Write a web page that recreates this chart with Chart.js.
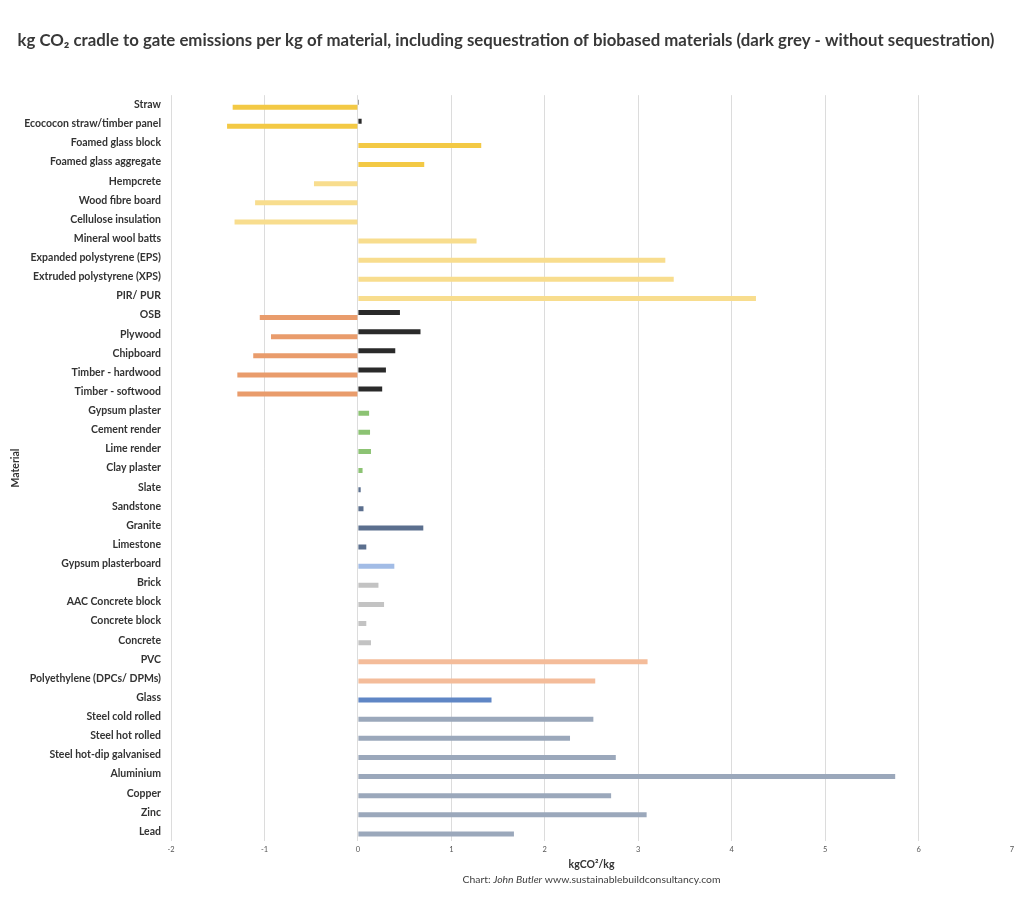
<!DOCTYPE html>
<html>
<head>
<meta charset="utf-8">
<title>kg CO2 cradle to gate emissions per kg of material</title>
<script src="https://cdn.jsdelivr.net/npm/chart.js@4.4.1/dist/chart.umd.min.js"></script>
<style>
    html, body { margin: 0; padding: 0; background: #ffffff; }
    #wrap { position: relative; width: 1024px; height: 913px; }
</style>
</head>
<body>
<div id="wrap"><canvas id="co2-chart"></canvas></div>
<script>
// Materials, top to bottom
const materials = [
    'Straw', 'Ecococon straw/timber panel', 'Foamed glass block', 'Foamed glass aggregate',
    'Hempcrete', 'Wood fibre board', 'Cellulose insulation', 'Mineral wool batts',
    'Expanded polystyrene (EPS)', 'Extruded polystyrene (XPS)', 'PIR/ PUR',
    'OSB', 'Plywood', 'Chipboard', 'Timber - hardwood', 'Timber - softwood',
    'Gypsum plaster', 'Cement render', 'Lime render', 'Clay plaster',
    'Slate', 'Sandstone', 'Granite', 'Limestone', 'Gypsum plasterboard',
    'Brick', 'AAC Concrete block', 'Concrete block', 'Concrete',
    'PVC', 'Polyethylene (DPCs/ DPMs)', 'Glass',
    'Steel cold rolled', 'Steel hot rolled', 'Steel hot-dip galvanised',
    'Aluminium', 'Copper', 'Zinc', 'Lead'
];

// kgCO2/kg including sequestration of biobased materials
const withSequestration = [
    -1.34, -1.40, 1.32, 0.71,
    -0.47, -1.10, -1.32, 1.27,
    3.29, 3.38, 4.26,
    -1.05, -0.93, -1.12, -1.29, -1.29,
    0.12, 0.13, 0.14, 0.05,
    0.03, 0.06, 0.70, 0.09, 0.39,
    0.22, 0.28, 0.09, 0.14,
    3.10, 2.54, 1.43,
    2.52, 2.27, 2.76,
    5.75, 2.71, 3.09, 1.67
];

// kgCO2/kg without sequestration (dark grey), only for biobased materials
const withoutSequestration = [
    0.01, 0.04, null, null,
    null, null, null, null,
    null, null, null,
    0.45, 0.67, 0.40, 0.30, 0.26,
    null, null, null, null,
    null, null, null, null, null,
    null, null, null, null,
    null, null, null,
    null, null, null,
    null, null, null, null
];

// x axis range
const xMin = -2;
const xMax = 7;

// Material group of each row (used for colouring)
const materialGroups = [
    'gold', 'gold', 'gold', 'gold',
    'yellow', 'yellow', 'yellow', 'yellow',
    'yellow', 'yellow', 'yellow',
    'timber', 'timber', 'timber', 'timber', 'timber',
    'plaster', 'plaster', 'plaster', 'plaster',
    'stone', 'stone', 'stone', 'stone', 'board',
    'masonry', 'masonry', 'masonry', 'masonry',
    'plastic', 'plastic', 'glass',
    'metal', 'metal', 'metal',
    'metal', 'metal', 'metal', 'metal'
];

const groupColors = {
    gold: '#f3c945',
    yellow: '#f8dd8e',
    timber: '#e99c6c',
    plaster: '#8cc373',
    stone: '#5b6f8e',
    board: '#a2bce6',
    masonry: '#c3c3c3',
    plastic: '#f4bc9a',
    glass: '#5f86c5',
    metal: '#9ba8bb'
};

const labelFont = 'Lato, "Open Sans", "DejaVu Sans", sans-serif';

// Footer credit below the axis title
const textPlugin = {
    id: 'chartTexts',
    afterDraw(chart) {
        const ctx = chart.ctx;
        const cx = (chart.chartArea.left + chart.chartArea.right) / 2;
        ctx.save();
        ctx.textBaseline = 'middle';
        ctx.fillStyle = '#404040';

        // "Chart: John Butler www.sustainablebuildconsultancy.com"
        const parts = [
            { text: 'Chart: ', font: '10.4px ' + labelFont },
            { text: 'John Butler', font: 'italic 10.4px ' + labelFont },
            { text: ' www.sustainablebuildconsultancy.com', font: '10.4px ' + labelFont }
        ];
        let total = 0;
        parts.forEach(p => { ctx.font = p.font; p.w = ctx.measureText(p.text).width; total += p.w; });
        let x = cx - total / 2;
        ctx.textAlign = 'left';
        parts.forEach(p => { ctx.font = p.font; ctx.fillText(p.text, x, 880); x += p.w; });
        ctx.restore();
    }
};

const ctx = document.getElementById('co2-chart').getContext('2d');
new Chart(ctx, {
    type: 'bar',
    data: {
        labels: materials,
        datasets: [
            {
                label: 'Without sequestration',
                data: withoutSequestration,
                backgroundColor: '#2a2a2a',
                categoryPercentage: 0.52,
                barPercentage: 1.0
            },
            {
                label: 'Including sequestration',
                data: withSequestration,
                backgroundColor: materialGroups.map(g => groupColors[g]),
                categoryPercentage: 0.52,
                barPercentage: 1.0
            }
        ]
    },
    options: {
        indexAxis: 'y',
        responsive: true,
        maintainAspectRatio: false,
        animation: false,
        layout: { padding: { left: 0, right: 12, top: 0, bottom: 0 } },
        plugins: {
            legend: { display: false },
            tooltip: { enabled: false },
            title: {
                display: true,
                text: 'kg CO\u2082 cradle to gate emissions per kg of material, including sequestration of biobased materials (dark grey - without sequestration)',
                color: '#383838',
                font: { family: labelFont, size: 16.8, weight: 'bold' },
                padding: { top: 31, bottom: 44 }
            }
        },
        scales: {
            x: {
                min: xMin,
                max: xMax,
                ticks: {
                    stepSize: 1,
                    color: '#555555',
                    font: { family: labelFont, size: 7.5 },
                    padding: 4
                },
                grid: {
                    color: ctx => (ctx.tick && ctx.tick.value === xMax) ? 'rgba(0,0,0,0)' : '#dcdcdc',
                    drawTicks: false
                },
                border: { display: false },
                title: {
                    display: true,
                    text: 'kgCO\u00b2/kg',
                    color: '#333333',
                    font: { family: labelFont, size: 10.5, weight: 'bold' },
                    padding: { top: 0, bottom: 42 }
                },
                afterFit(scale) { scale.height = 72; }
            },
            y: {
                ticks: {
                    color: '#333333',
                    font: { family: labelFont, size: 10.5, weight: 'bold' },
                    padding: 10,
                    autoSkip: false
                },
                grid: { display: false, drawTicks: false },
                border: { display: false },
                title: {
                    display: true,
                    text: 'Material',
                    color: '#333333',
                    font: { family: labelFont, size: 10.5, weight: 'bold' },
                    padding: { top: 9, bottom: 0 }
                },
                afterFit(scale) { scale.width = 171; }
            }
        }
    },
    plugins: [textPlugin]
});
</script>
</body>
</html>
